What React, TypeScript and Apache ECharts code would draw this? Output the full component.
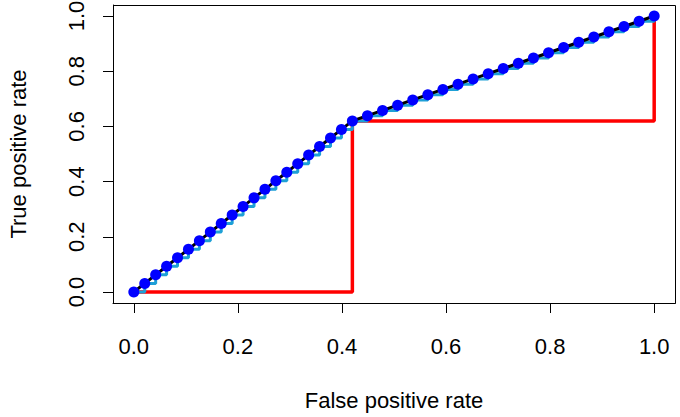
import React, { useEffect, useRef } from "react";
import * as echarts from "echarts";

// ROC curve points (false positive rate, true positive rate)
const fpr = [
  0, 0.021, 0.042, 0.063, 0.084, 0.105, 0.126, 0.147, 0.168, 0.189, 0.21,
  0.231, 0.252, 0.273, 0.294, 0.315, 0.336, 0.357, 0.378, 0.399, 0.42,
  0.449, 0.478, 0.507, 0.536, 0.565, 0.594, 0.623, 0.652, 0.681, 0.71,
  0.739, 0.768, 0.797, 0.826, 0.855, 0.884, 0.913, 0.942, 0.971, 1.0,
];
const tpr = [
  0, 0.031, 0.062, 0.093, 0.124, 0.155, 0.186, 0.217, 0.248, 0.279, 0.31,
  0.341, 0.372, 0.403, 0.434, 0.465, 0.496, 0.527, 0.558, 0.589, 0.62,
  0.639, 0.658, 0.677, 0.696, 0.715, 0.734, 0.753, 0.772, 0.791, 0.81,
  0.829, 0.848, 0.867, 0.886, 0.905, 0.924, 0.943, 0.962, 0.981, 1.0,
];

// Single-threshold classifier curve
const stepFpr = [0, 0.42, 0.42, 1, 1];
const stepTpr = [0, 0, 0.62, 0.62, 1];

const tickValues = [0, 0.2, 0.4, 0.6, 0.8, 1.0];

const FONT = "'Liberation Sans', Arial, Helvetica, sans-serif";
const FONT_SIZE = 22;

export default function App() {
  const ref = useRef<HTMLDivElement>(null);

  useEffect(() => {
    if (!ref.current) return;
    const chart = echarts.init(ref.current, null, { renderer: "svg" });

    const curve = fpr.map((x, i) => [x, tpr[i]]);
    const step = stepFpr.map((x, i) => [x, stepTpr[i]]);

    // data range padded by 4% on each side, ticks only at 0..1
    const axisCommon = {
      type: "value" as const,
      min: -0.04,
      max: 1.04,
      splitLine: { show: false },
      axisLine: {
        show: true,
        onZero: false,
        lineStyle: { color: "#000", width: 1 },
      },
      axisTick: {
        show: true,
        inside: false,
        length: 10,
        customValues: tickValues,
        lineStyle: { color: "#000", width: 1 },
      },
      nameLocation: "middle" as const,
      nameTextStyle: { color: "#000", fontSize: FONT_SIZE, fontFamily: FONT },
    };

    const labelCommon = {
      color: "#000",
      fontSize: FONT_SIZE,
      fontFamily: FONT,
      customValues: tickValues,
      formatter: (v: number) => v.toFixed(1),
    };

    chart.setOption({
      animation: false,
      backgroundColor: "#fff",
      grid: {
        left: 113,
        top: 5,
        width: 562,
        height: 298,
        containLabel: false,
        outerBoundsMode: "none",
      },
      xAxis: {
        ...axisCommon,
        name: "False positive rate",
        nameGap: 86,
        axisLabel: { ...labelCommon, margin: 32 },
      },
      yAxis: {
        ...axisCommon,
        name: "True positive rate",
        nameGap: 84,
        axisLabel: { ...labelCommon, rotate: 90, margin: 26 },
      },
      graphic: [
        {
          type: "rect",
          shape: { x: 113.5, y: 5.5, width: 562, height: 298 },
          style: { fill: "none", stroke: "#000", lineWidth: 1 },
          z: 100,
        },
      ],
      series: [
        {
          type: "line",
          data: step,
          showSymbol: false,
          lineStyle: { color: "#ff0000", width: 3.5 },
          z: 2,
        },
        {
          type: "line",
          data: curve,
          step: "end",
          showSymbol: false,
          lineStyle: { color: "#1ea0d6", width: 3 },
          z: 3,
        },
        {
          type: "line",
          data: curve,
          showSymbol: false,
          lineStyle: { color: "#000", width: 3 },
          z: 4,
        },
        {
          type: "scatter",
          data: curve,
          symbol: "circle",
          symbolSize: 11,
          itemStyle: { color: "#0000ff", opacity: 1 },
          z: 5,
        },
      ],
    });

    return () => chart.dispose();
  }, []);

  return (
    <div
      ref={ref}
      style={{ position: "fixed", left: 0, top: 0, width: 680, height: 417 }}
    />
  );
}
